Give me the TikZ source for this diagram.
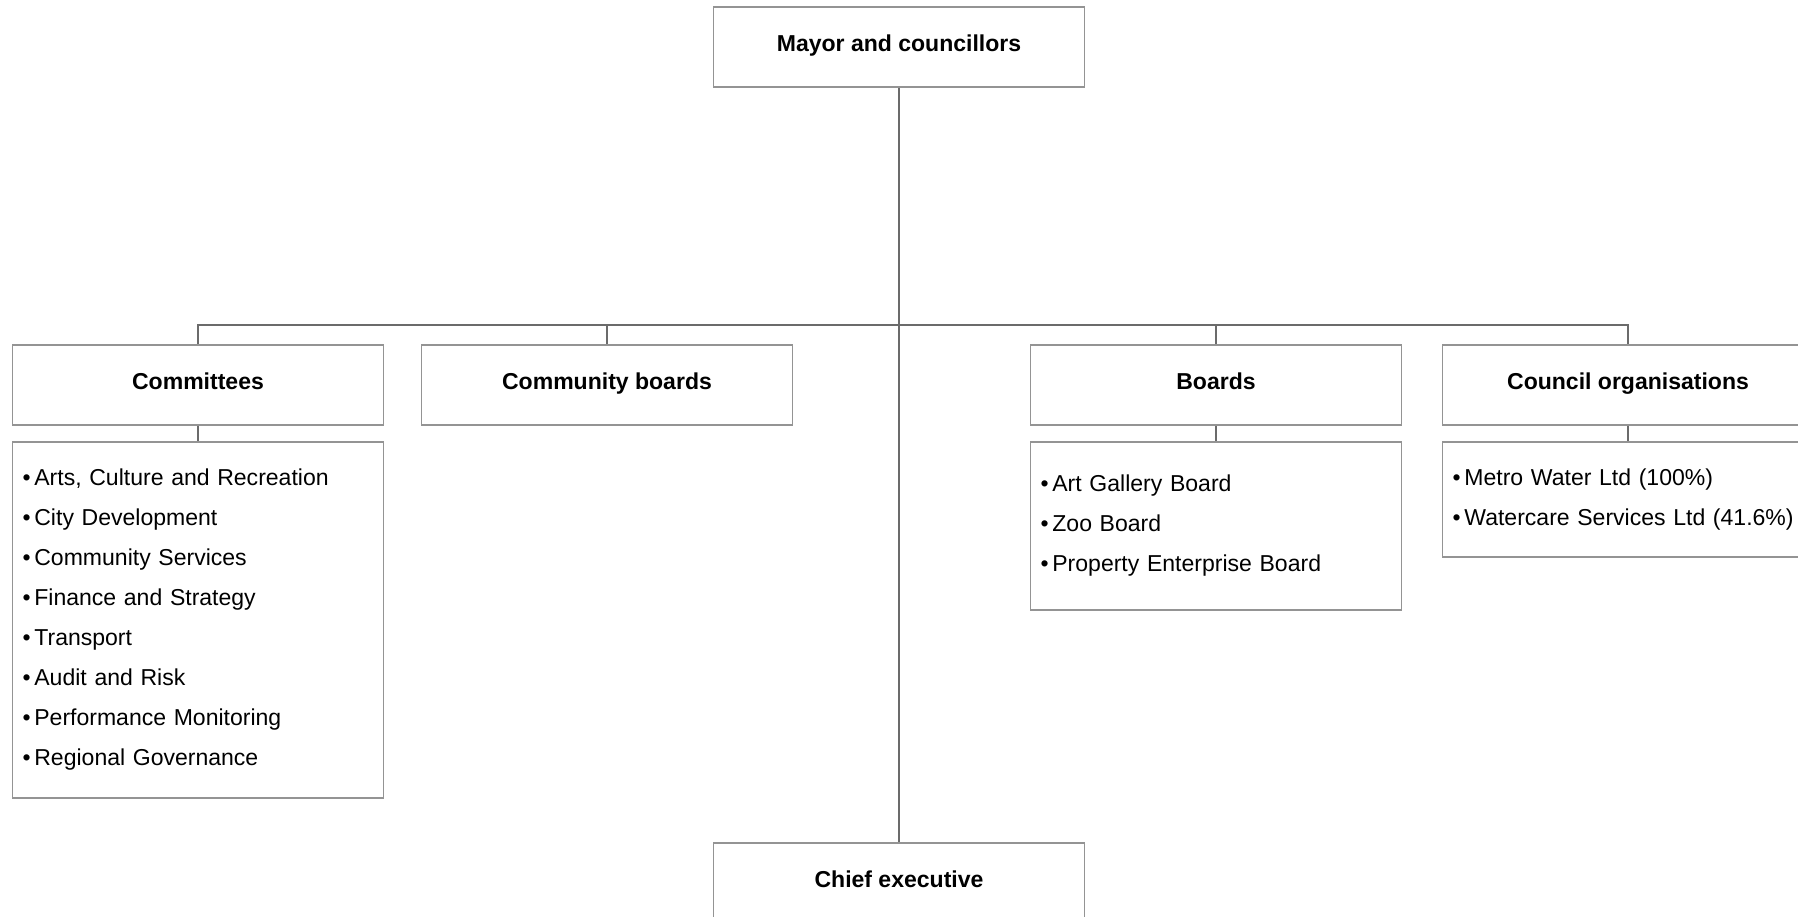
\documentclass[tikz,border=0pt]{standalone}
\usepackage{fontspec}
\setmainfont{Liberation Sans}
\usetikzlibrary{positioning}
\tikzset{
      headbox/.style={
        draw=black!42,
        line width=1.1pt,
        fill=white,
        minimum width=7.42cm,
        minimum height=1.6cm,
        text height=0.74em,
        text depth=0.21em,
        font=\fontsize{13.1pt}{16pt}\selectfont\bfseries
      },
      listbox/.style={
        draw=black!42,
        line width=1.1pt,
        fill=white,
        text width=7.02cm,
        inner xsep=0.2cm,
        inner ysep=0pt,
        align=left,
        font=\fontsize{13.1pt}{22.76pt}\selectfont
      },
      link/.style={
        draw=black!58,
        line width=1.2pt
      }
    }
\newcommand{\itm}[1]{\textbullet\,#1}

\begin{document}
\begin{tikzpicture}[x=1cm,y=1cm]
    \useasboundingbox (0,0) rectangle (35.96,-18.34);
    \node[headbox] (mayor) at (17.98,-0.94) {Mayor and councillors};
    \node[headbox] (chief) at (17.98,-17.66) {Chief executive};
    \coordinate (bus) at (17.98,-6.5);
    \node[headbox] (comm) at (3.96,-7.7) {Committees};
    \node[headbox] (cboards) at (12.14,-7.7) {Community boards};
    \node[headbox] (boards) at (24.32,-7.7) {Boards};
    \node[headbox] (cco) at (32.56,-7.7) {Council organisations};
    \node[listbox, below=0.3cm of comm, minimum height=7.12cm] (commlist) {\itm{Arts, Culture and Recreation}\\ \itm{City Development}\\ \itm{Community Services}\\ \itm{Finance and Strategy}\\ \itm{Transport}\\ \itm{Audit and Risk}\\ \itm{Performance Monitoring}\\ \itm{Regional Governance}};
    \node[listbox, below=0.3cm of boards, minimum height=3.36cm] (boardslist) {\itm{Art Gallery Board}\\ \itm{Zoo Board}\\ \itm{Property Enterprise Board}};
    \node[listbox, below=0.3cm of cco, minimum height=2.3cm] (ccolist) {\itm{Metro Water Ltd (100\%)}\\ \itm{Watercare Services Ltd (41.6\%)}};
    \draw[link] (mayor.south) -- (chief.north);
    \draw[link] (comm.north) |- (bus) -| (cco.north);
    \draw[link] (cboards.north) -- (cboards.north |- bus);
    \draw[link] (boards.north) -- (boards.north |- bus);
    \draw[link] (comm.south) -- (commlist.north);
    \draw[link] (boards.south) -- (boardslist.north);
    \draw[link] (cco.south) -- (ccolist.north);
    \end{tikzpicture}
\end{document}
